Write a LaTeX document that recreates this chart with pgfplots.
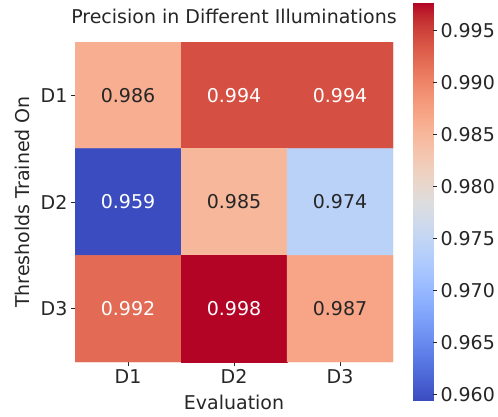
\documentclass[border=0pt]{standalone}
\usepackage{fontspec}
\setmainfont{DejaVu Sans}
\usepackage{pgfplots}
\pgfplotsset{compat=1.18}
\definecolor{txt}{HTML}{262626}
\newcommand\f{\fontsize{19}{22.5}\selectfont}
\pgfplotsset{colormap={coolwarm}{
rgb255=(59,76,192) rgb255=(68,90,204) rgb255=(77,104,215) rgb255=(87,117,225)
rgb255=(98,130,234) rgb255=(108,142,241) rgb255=(119,154,247) rgb255=(130,165,251)
rgb255=(141,176,254) rgb255=(152,185,255) rgb255=(163,194,255) rgb255=(174,201,253)
rgb255=(184,208,249) rgb255=(194,213,244) rgb255=(204,217,238) rgb255=(213,219,230)
rgb255=(221,221,221) rgb255=(229,216,209) rgb255=(236,211,197) rgb255=(241,204,185)
rgb255=(245,196,173) rgb255=(247,187,160) rgb255=(247,177,148) rgb255=(247,166,135)
rgb255=(244,154,123) rgb255=(241,141,111) rgb255=(236,127,99) rgb255=(229,112,88)
rgb255=(222,96,77) rgb255=(213,80,66) rgb255=(203,62,56) rgb255=(192,40,47)
rgb255=(180,4,38)}}
\begin{document}
\begin{tikzpicture}[x=1pt,y=1pt]
\path[use as bounding box] (0,0) rectangle (498,416);
\begin{axis}[
  at={(75pt,54pt)}, anchor=south west, scale only axis,
  width=318pt, height=320pt,
  xmin=-0.5, xmax=2.5, ymin=-0.5, ymax=2.5, y dir=reverse,
  axis line style={draw=none},
  xtick={0,1,2}, ytick={0,1,2},
  xticklabels={D1,D2,D3}, yticklabels={D1,D2,D3},
  tick align=outside, major tick length=4pt,
  tick style={txt, line width=0.8pt},
  xtick pos=bottom, ytick pos=left,
  colormap name=coolwarm, point meta min=0.9595, point meta max=0.9976,
  every tick label/.append style={font=\f, text=txt},
  title={Precision in Different Illuminations},
  title style={font=\f, text=txt, at={(axis description cs:0.5,1.0397)}, anchor=base},
  xlabel={Evaluation},
  xlabel style={font=\f, text=txt, at={(axis description cs:0.5,-0.1469)}, anchor=base},
  ylabel={Thresholds Trained On},
  ylabel style={font=\f, text=txt, at={(axis description cs:-0.1437,0.5)}, anchor=base},
  nodes near coords style={font=\f, anchor=center},
]
\addplot[matrix plot*, mesh/cols=3, point meta=explicit] coordinates {
(0,0) [0.986] (1,0) [0.994] (2,0) [0.994]

(0,1) [0.959] (1,1) [0.985] (2,1) [0.974]

(0,2) [0.992] (1,2) [0.998] (2,2) [0.987]
};
\addplot[only marks, mark=none, point meta=explicit symbolic,
  nodes near coords, nodes near coords style={text=white}] coordinates {
(1,0) [0.994] (2,0) [0.994] (0,1) [0.959] (0,2) [0.992] (1,2) [0.998]
};
\addplot[only marks, mark=none, point meta=explicit symbolic,
  nodes near coords, nodes near coords style={text=txt}] coordinates {
(0,0) [0.986] (1,1) [0.985] (2,1) [0.974] (2,2) [0.987]
};
\end{axis}
\begin{axis}[
  at={(413pt,16pt)}, anchor=south west, scale only axis,
  width=20pt, height=397pt, view={0}{90},
  xmin=0, xmax=1, ymin=0.9595, ymax=0.9976,
  xtick=\empty, ztick=\empty,
  ytick={0.960,0.965,0.970,0.975,0.980,0.985,0.990,0.995},
  yticklabel pos=right, ytick pos=right,
  yticklabel style={/pgf/number format/.cd, fixed, fixed zerofill, precision=3, assume math mode=true},
  every tick label/.append style={font=\f, text=txt},
  axis line style={draw=none},
  tick align=outside, major tick length=4pt,
  tick style={txt, line width=0.8pt},
  colormap name=coolwarm, point meta min=0.9595, point meta max=0.9976,
]
\addplot3[surf, shader=interp, point meta=y] coordinates {
(0,0.9595,0) (1,0.9595,0)

(0,0.9976,0) (1,0.9976,0)
};
\end{axis}
\end{tikzpicture}
\end{document}
